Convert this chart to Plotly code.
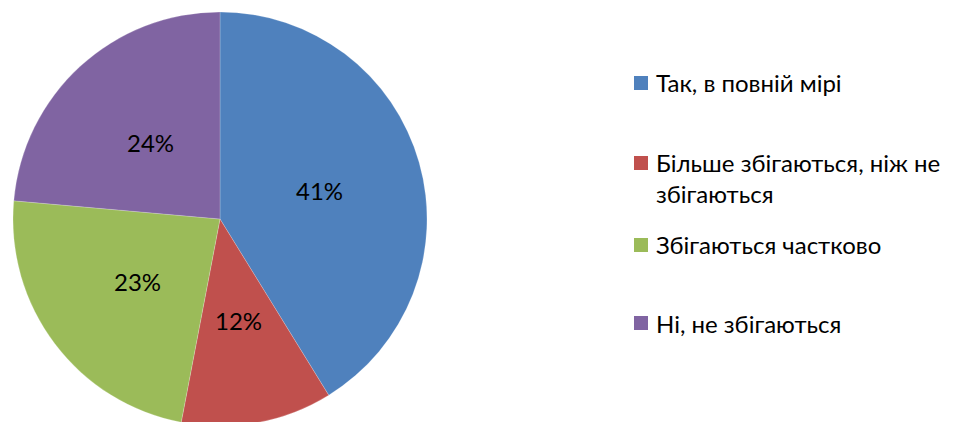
import math
import plotly.graph_objects as go

categories = ["Так, в повній мірі", "Більше збігаються, ніж не збігаються",
              "Збігаються частково", "Ні, не збігаються"]
legend_labels = ["Так, в повній мірі", "Більше збігаються, ніж не<br>збігаються",
                 "Збігаються частково", "Ні, не збігаються"]
values = [41.2, 11.8, 23.4, 23.6]
colors = ["#4F81BD", "#C0504D", "#9BBB59", "#8064A2"]

W, H = 959, 422
FONT = "Lato, Carlito, Calibri, sans-serif"

# pie geometry in paper pixels (page body adds an 8px offset on screen)
PX0, PX1 = 5, 419      # pie left/right
PY0, PY1 = 4, 418      # pie top/bottom
cx, cy = (PX0 + PX1) / 2, (PY0 + PY1) / 2
R = (PX1 - PX0) / 2

fig = go.Figure()
fig.add_trace(go.Pie(
    labels=categories, values=values, sort=False, direction="clockwise", rotation=0,
    marker=dict(colors=colors, line=dict(color="rgba(255,255,255,0.4)", width=0.5)),
    textinfo="none",
    domain=dict(x=[PX0 / W, PX1 / W], y=[1 - PY1 / H, 1 - PY0 / H]),
    showlegend=False, hoverinfo="label+percent",
))

annotations, shapes = [], []
# percentage labels at half radius, at each slice's mid-angle (derived from values)
total = sum(values)
cum = 0
for v in values:
    mid = (cum + v / 2) / total * 2 * math.pi
    cum += v
    lx = cx + 0.5 * R * math.sin(mid)
    ly = cy - 0.5 * R * math.cos(mid)
    annotations.append(dict(xref="paper", yref="paper", x=lx / W, y=1 - ly / H,
                            xanchor="center", yanchor="middle", showarrow=False,
                            text=f"{round(v / total * 100)}%",
                            font=dict(family=FONT, size=24, color="black")))

# legend built from the category list
row_y = [74, 170, 236, 315]
sq_y = [75, 155, 237, 315]
for lab, col, ty, sy in zip(legend_labels, colors, row_y, sq_y):
    shapes.append(dict(type="rect", xref="paper", yref="paper",
                       x0=626 / W, x1=640 / W, y0=1 - (sy - 7) / H, y1=1 - (sy + 7) / H,
                       fillcolor=col, line=dict(width=0)))
    annotations.append(dict(xref="paper", yref="paper", x=646 / W, y=1 - ty / H,
                            xanchor="left", yanchor="middle", align="left", showarrow=False,
                            text=lab, font=dict(family=FONT, size=24, color="black")))

fig.update_layout(width=W, height=H, margin=dict(l=0, r=0, t=0, b=0),
                  paper_bgcolor="white", plot_bgcolor="white",
                  shapes=shapes, annotations=annotations)
fig.write_html("out.html")
